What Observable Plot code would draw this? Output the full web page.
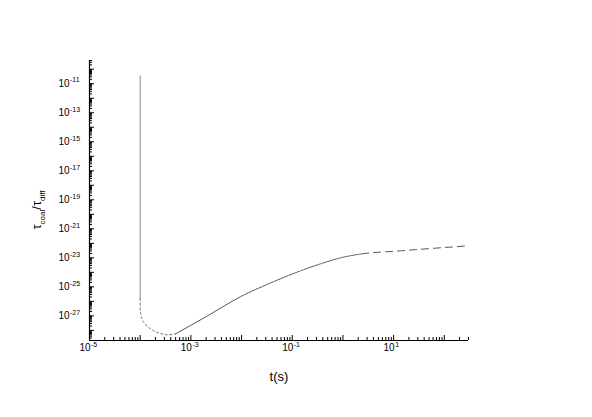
<!DOCTYPE html>
<html><head><meta charset="utf-8">
<script src="https://cdn.jsdelivr.net/npm/d3@7"></script>
<script src="https://cdn.jsdelivr.net/npm/@observablehq/plot@0.6"></script>
<style>body{margin:0;background:#fff;} #chart svg{display:block;}</style>
</head><body><div id="chart"></div>
<script>
// Curve (t in s, ratio tau_coal/tau_diff)
const tValues = [1e-4, 1e-4, 1.017e-4, 1.16e-4, 1.6e-4, 2.3e-4, 3.46e-4, 4.97e-4, 2.13e-3, 9.55e-3, 3.73e-2, 0.146, 0.362, 0.9, 2.04, 13.7, 300];
const ratioValues = [3.5e-11, 1.5e-26, 1.6e-27, 3.9e-28, 1.26e-28, 6.7e-29, 4.9e-29, 5.7e-29, 1.0e-27, 2.1e-26, 1.85e-25, 1.27e-24, 3.86e-24, 1.0e-23, 1.74e-23, 3.04e-23, 6.73e-23];
const xLabelTicks = [1e-5, 1e-3, 1e-1, 1e1];
const xLabelExps = ["-5", "-3", "-1", "1"];
const yLabelTicks = [1e-27, 1e-25, 1e-23, 1e-21, 1e-19, 1e-17, 1e-15, 1e-13, 1e-11];
const yLabelExps = ["-27", "-25", "-23", "-21", "-19", "-17", "-15", "-13", "-11"];
const xDomain = [1e-5, 300];
const yDomain = [2e-29, 4e-10];
// t values where the line style changes (solid -> fine dash -> long dash)
const styleBreaks = [9.55e-3, 2.04];

const points = tValues.map((t, i) => ({t, r: ratioValues[i], i}));
const seg = (a, b) => points.filter(p => p.i >= a && p.i <= b);

function decadeTicks(lo, hi, mults) {
  const out = [];
  for (let e = Math.floor(Math.log10(lo)); e <= Math.ceil(Math.log10(hi)); e++)
    for (const m of mults) { const v = m * Math.pow(10, e); if (v >= lo * 0.999 && v <= hi * 1.001) out.push(v); }
  return out;
}
const xMajor = decadeTicks(xDomain[0], xDomain[1], [1]);
const xMinor = decadeTicks(xDomain[0], xDomain[1], [2,3,4,5,6,7,8,9]);
const yMajor = decadeTicks(yDomain[0], yDomain[1], [1]);
const yMinor = decadeTicks(yDomain[0], yDomain[1], [2,3,4,5,6,7,8,9]);

const font = "'Liberation Sans', Arial, sans-serif";
const line = (data, opts) => Plot.line(data, {x: "t", y: "r", curve: "monotone-x", strokeWidth: 1, ...opts});

const svg = Plot.plot({
  width: 592, height: 417,
  marginLeft: 89, marginRight: 124, marginTop: 60, marginBottom: 77,
  style: {fontFamily: font, background: "white", color: "black"},
  x: {type: "log", domain: xDomain},
  y: {type: "log", domain: yDomain},
  marks: [
    line(seg(0, 1), {stroke: "#8c8c8c", curve: "linear"}),
    line(seg(1, 7), {stroke: "#6e6e6e", strokeDasharray: "2,2.5", curve: "catmull-rom"}),
    line(seg(7, 16), {stroke: "#585858", className: "rise"}),
    Plot.axisX(xMajor, {tickSize: -5, fill: "none", label: null, stroke: "black"}),
    Plot.axisX(xMinor, {tickSize: -3, fill: "none", label: null, stroke: "black"}),
    Plot.axisY(yMajor, {tickSize: -5, fill: "none", label: null, stroke: "black"}),
    Plot.axisY(yMinor, {tickSize: -3, fill: "none", label: null, stroke: "black"}),
    Plot.ruleX([xDomain[0]], {stroke: "black", strokeWidth: 1.2}),
    Plot.ruleY([yDomain[0]], {stroke: "black", strokeWidth: 1.2}),
    Plot.text(xLabelTicks, {x: d => d, frameAnchor: "bottom", text: () => "10", dy: 10, dx: 1, textAnchor: "end", fontSize: 10, fill: "black"}),
    Plot.text(xLabelTicks, {x: d => d, frameAnchor: "bottom", text: (d, i) => xLabelExps[i], dy: 6.5, dx: 1.5, textAnchor: "start", fontSize: 7, fill: "black"}),
    Plot.text(yLabelTicks, {y: d => d, frameAnchor: "left", text: () => "10", dx: -20, textAnchor: "end", fontSize: 10, fill: "black"}),
    Plot.text(yLabelTicks, {y: d => d, frameAnchor: "left", text: (d, i) => yLabelExps[i], dx: -19.5, dy: -3.5, textAnchor: "start", fontSize: 7, fill: "black"}),
    Plot.text(["t(s)"], {frameAnchor: "bottom", text: d => d, dy: 40, fontSize: 13, fill: "black"})
  ]
});

// rotated y label with subscripts
const lab = d3.select(svg).append("text")
  .attr("transform", "translate(41,210) rotate(-90)")
  .attr("text-anchor", "middle")
  .attr("font-family", font)
  .attr("font-size", 13)
  .attr("fill", "black");
lab.append("tspan").text("τ");
lab.append("tspan").attr("font-size", 8).attr("dy", 4).text("coal");
lab.append("tspan").attr("dy", -4).text("/");
lab.append("tspan").text("τ");
lab.append("tspan").attr("font-size", 8).attr("dy", 4).text("diff");

document.getElementById("chart").appendChild(svg);

// vary dash style along the single smooth rising path
const path = svg.querySelector(".rise path");
if (path) {
  const L = path.getTotalLength();
  const xs = svg.scale("x");
  const lenAt = px => {
    let lo = 0, hi = L;
    while (hi - lo > 0.25) { const m = (lo + hi) / 2; if (path.getPointAtLength(m).x < px) lo = m; else hi = m; }
    return lo;
  };
  const la = lenAt(xs.apply(styleBreaks[0])), lb = lenAt(xs.apply(styleBreaks[1]));
  const arr = [la, 1]; let pos = la + 1;
  while (pos < lb) { arr.push(3, 1); pos += 4; }
  while (pos < L) { arr.push(7, 5); pos += 12; }
  path.setAttribute("stroke-dasharray", arr.map(v => v.toFixed(2)).join(","));
}
</script>
</body></html>
